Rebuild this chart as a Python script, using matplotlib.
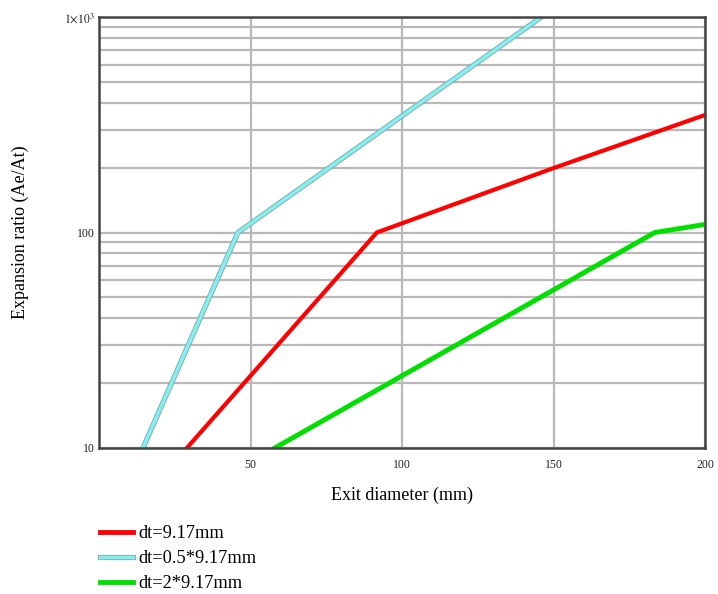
import matplotlib
matplotlib.use("Agg")
import matplotlib.pyplot as plt
import matplotlib.patheffects as pe
from matplotlib.lines import Line2D
from matplotlib.ticker import FixedLocator, LogLocator, NullFormatter

# Data
red_x = [29.0, 91.7, 150.0, 200.0]
red_y = [10, 100, 199, 351]
cyan_x = [14.5, 45.85, 146.0]
cyan_y = [10, 100, 1000]
green_x = [58.0, 183.4, 200.0]
green_y = [10, 100, 109]
labels = ["dt=9.17mm", "dt=0.5*9.17mm", "dt=2*9.17mm"]
x_ticks = [50, 100, 150, 200]
y_ticks = [10, 100, 1000]
y_ticklabels = ["10", "100", r"$1{\times}10^{3}$"]

plt.rcParams['font.family'] = ['Liberation Serif', 'DejaVu Serif']
plt.rcParams['mathtext.fontset'] = 'stix'

fig = plt.figure(figsize=(7.18, 5.94), dpi=100)
ax = fig.add_axes([99/718, 1-448/594, (705-99)/718, (448-17)/594])

ax.set_yscale('log')
ax.set_xlim(0, 200)
ax.set_ylim(10, 1000)

ax.yaxis.set_major_locator(FixedLocator(y_ticks))
ax.set_yticklabels(y_ticklabels)
ax.yaxis.set_minor_locator(LogLocator(base=10, subs=range(2, 10)))
ax.yaxis.set_minor_formatter(NullFormatter())
ax.set_xticks(x_ticks)
ax.set_xticklabels([str(t) for t in x_ticks])

ax.grid(True, which='both', axis='y', color='#b8b8b8', lw=1.6)
ax.grid(True, which='major', axis='x', color='#b8b8b8', lw=1.6)
ax.tick_params(which='both', length=0, labelsize=8.5, colors='#222222')
ax.tick_params(axis='x', pad=8)
ax.tick_params(axis='y', pad=3)
for s in ax.spines.values():
    s.set_color('#444444')
    s.set_linewidth(1.8)

red_line, = ax.plot(red_x, red_y, color='#ff0000', lw=3)
cyan_line, = ax.plot(cyan_x, cyan_y, color='#80f0f0', lw=2.5,
                     path_effects=[pe.Stroke(linewidth=3.8, foreground='#8aa8a8'), pe.Normal()])
green_line, = ax.plot(green_x, green_y, color='#00e000', lw=3.5)

ax.set_xlabel("Exit diameter (mm)", fontsize=13, labelpad=11)
ax.set_ylabel("Expansion ratio (Ae/At)", fontsize=13, labelpad=25)

handles = [
    Line2D([], [], color='#ff0000', lw=3.5),
    Line2D([], [], color='#80f0f0', lw=2.5,
           path_effects=[pe.Stroke(linewidth=3.8, foreground='#8aa8a8'), pe.Normal()]),
    Line2D([], [], color='#00e000', lw=3.5),
]
fig.legend(handles, labels, loc='upper left', bbox_to_anchor=(100/718, 1-525/594),
           frameon=False, fontsize=13.2, handlelength=1.82, handletextpad=0.27,
           labelspacing=0.44, borderpad=0, borderaxespad=0)

fig.savefig("out.png", dpi=100)
